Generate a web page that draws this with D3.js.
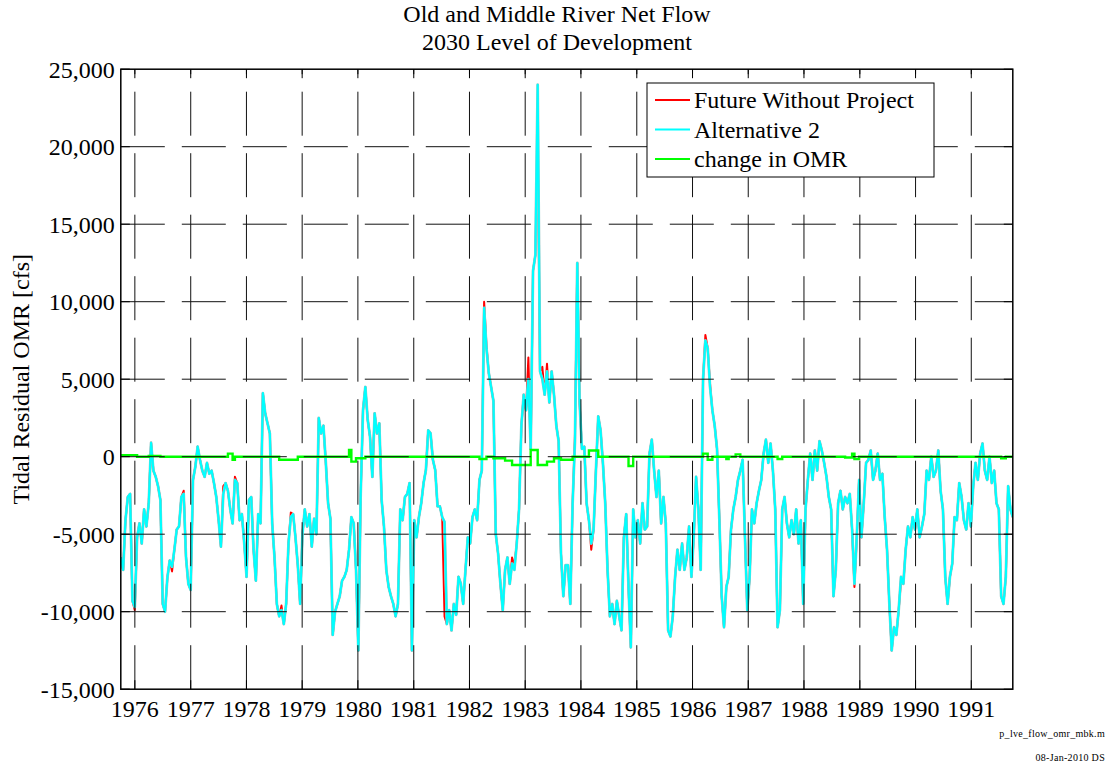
<!DOCTYPE html>
<html>
<head>
<meta charset="utf-8">
<script src="https://d3js.org/d3.v7.min.js"></script>
<style>
  html, body { margin: 0; padding: 0; background: #fff; }
  svg { display: block; font-family: "Liberation Serif", "Times New Roman", serif; }
</style>
</head>
<body>
<svg id="chart" width="1111" height="771"></svg>
<script>
const titleLines = ["Old and Middle River Net Flow", "2030 Level of Development"];
const yLabel = "Tidal Residual OMR [cfs]";
const footNotes = ["p_lve_flow_omr_mbk.m", "08-Jan-2010 DS"];
const seriesNames = ["Future Without Project", "Alternative 2", "change in OMR"];
const seriesColors = ["#ff0000", "#00ffff", "#00ff00"];
const yTicks = [-15000, -10000, -5000, 0, 5000, 10000, 15000, 20000, 25000];
const yearLabels = ["1976", "1977", "1978", "1979", "1980", "1981", "1982", "1983",
  "1984", "1985", "1986", "1987", "1988", "1989", "1990", "1991"];

// half-monthly values, water years 1976..1991 (Oct 1 .. Sep 30), 24 per row
const alt2ByWY = [
  [-6500,-7300,-4100,-2600,-2400,-9300,-9700,-5200,-4300,-5600,-3400,-4500,-3000,900,-900,-1300,-1900,-2800,-9500,-10000,-7800,-6700,-7100,-6000],
  [-4700,-4500,-2600,-2400,-6500,-8200,-8600,-1500,-650,650,-200,-900,-1300,-400,-1100,-900,-1700,-2600,-4100,-5800,-2400,-1700,-2200,-3400],
  [-4300,-1500,-1700,-4100,-3700,-5600,-7750,-2800,-2600,-6000,-8000,-3700,-4300,4100,2800,2150,1500,-4300,-6500,-9500,-10300,-9900,-10800,-9500],
  [-5600,-3900,-3700,-5200,-7000,-9500,-5000,-3400,-4500,-3700,-5800,-4000,-5000,2500,1500,2000,-300,-3000,-4000,-11500,-10000,-9500,-9000,-8000],
  [-7750,-7300,-6000,-3900,-4300,-7300,-12500,-2400,3000,4500,2400,1300,-1300,2800,1500,2150,-2800,-4500,-7300,-8400,-9000,-9500,-10300,-9500],
  [-3400,-4100,-2600,-2400,-1700,-12500,-4100,-5200,-3900,-3000,-1700,-860,1700,1500,-200,-860,-3200,-3200,-3900,-4200,-10800,-9900,-11200,-9500],
  [-10200,-7750,-8200,-9500,-7300,-5200,-5600,-3900,-3400,-4100,-1500,-900,9600,7000,5400,4500,3600,-5000,-6250,-8200,-9900,-7300,-6500,-8200],
  [-6900,-7300,-5600,-3400,2000,4000,3000,5000,500,12000,13000,24000,5500,5000,4000,5500,3500,5500,4000,2000,1000,-6250,-9000,-7000],
  [-7000,-9500,-3000,1000,12500,3500,500,650,-3000,-4100,-5600,-4700,-900,2600,1700,-400,-3000,-7300,-10300,-9500,-10800,-9300,-10300,-11200],
  [-5200,-3700,-8400,-12300,-3400,-5200,-4100,-5600,-3000,-4700,-4500,200,1100,-900,-2600,-900,-4300,-2600,-4300,-11200,-11600,-10300,-7750,-6000],
  [-7300,-5600,-7300,-6500,-4500,-7750,-5200,-1300,-3400,-7300,5000,7500,7000,4500,3000,2000,500,-4000,-9000,-11000,-8400,-7750,-4700,-3400],
  [-2600,-1500,-900,-200,-5200,-9900,-7750,-3400,-4300,-3000,-2200,-1500,200,1100,-400,850,-900,-3400,-11000,-9900,-3400,-2600,-4300,-5200],
  [-4100,-5000,-3400,-5600,-4100,-9500,-3400,-1500,200,-1500,400,-900,1000,400,-400,-1300,-2600,-3400,-9000,-7300,-3000,-2200,-3400,-2600],
  [-3000,-2400,-4700,-8200,-5200,-1500,-5200,-3000,-400,-200,400,-1500,-900,200,-1500,-1100,-3900,-6000,-9500,-12500,-11000,-11500,-9900,-7750],
  [-8200,-6000,-4500,-5200,-3900,-4700,-3400,-5200,-4500,-3700,-900,-1500,0,-1300,-900,400,-2200,-3400,-7750,-9500,-7750,-6900,-3900,-4100],
  [-1700,-2600,-4100,-4700,-3000,-4500,-1900,-400,-1500,200,850,-900,-1500,0,-1700,-900,-3000,-3400,-9000,-9500,-7750,-1900,-3400,-3900]
];

const fwpByWY = [
  [-6500,-7300,-4100,-2600,-2400,-9300,-9900,-5200,-4300,-5600,-3400,-4500,-3000,900,-900,-1300,-1900,-2800,-9500,-10000,-7800,-6700,-7400,-6000],
  [-4700,-4500,-2600,-2200,-6500,-8200,-8600,-1500,-650,650,-200,-900,-1300,-400,-1100,-900,-1700,-2600,-4100,-5800,-1900,-1700,-2200,-3400],
  [-4300,-1300,-1700,-4100,-3700,-5600,-7750,-2800,-2600,-6000,-8000,-3700,-4300,4100,2800,2150,1500,-4300,-6500,-9500,-10300,-9600,-10800,-9500],
  [-5600,-3600,-3700,-5200,-7000,-9500,-5000,-3400,-4500,-3700,-5800,-4000,-5000,2500,1500,2000,-300,-3000,-4000,-11500,-10000,-9500,-9000,-8000],
  [-7750,-7300,-6000,-3900,-4300,-7300,-12500,-2400,3000,4500,2400,1300,-1300,2800,1500,2150,-2800,-4500,-7300,-8400,-9000,-9500,-10300,-9500],
  [-3400,-4100,-2600,-2400,-1700,-12500,-4100,-5200,-3900,-3000,-1700,-860,1700,1500,-200,-860,-3200,-3200,-3900,-10300,-10800,-9900,-11200,-9500],
  [-10200,-7750,-8200,-9500,-7300,-5200,-5600,-3900,-3400,-4100,-1500,-900,10000,7200,5400,4500,3600,-5000,-6250,-8200,-9900,-7300,-6500,-8200],
  [-6500,-7000,-5600,-3400,2000,4000,3000,6400,500,12000,13000,20400,5500,5800,4000,6000,3500,5500,4000,2000,1000,-6250,-9000,-7000],
  [-7000,-9500,-3000,1300,12500,3500,500,650,-3000,-4100,-6000,-4700,-900,2600,1700,-400,-3000,-7300,-10300,-9500,-10800,-9300,-10300,-11200],
  [-5200,-3700,-8400,-12300,-3400,-5200,-4100,-5600,-3000,-4700,-4500,200,1100,-900,-2600,-900,-4300,-2600,-4300,-11200,-11600,-10300,-7750,-6000],
  [-7300,-5600,-7300,-6500,-4500,-7750,-5200,-1300,-3400,-7300,5000,7850,7000,4700,3000,2000,500,-4000,-9000,-11000,-8400,-7750,-4700,-3400],
  [-2600,-1500,-900,-200,-5200,-9900,-7750,-3400,-4300,-3000,-2200,-1500,200,1100,-400,850,-900,-3400,-11000,-9900,-3400,-2600,-4300,-5200],
  [-4100,-5000,-3400,-5600,-4100,-9500,-3400,-1500,200,-1500,400,-900,1000,400,-400,-1300,-2600,-3400,-9000,-7300,-3000,-2200,-3400,-2600],
  [-3000,-2400,-4700,-8400,-5200,-1500,-5200,-3000,-400,-200,400,-1500,-900,200,-1500,-1100,-3900,-6000,-9500,-12500,-11000,-11500,-9900,-8000],
  [-8200,-6000,-4500,-5200,-3900,-4700,-3400,-5200,-4500,-3700,-900,-1500,0,-1300,-900,400,-2200,-3400,-7750,-9500,-7750,-6900,-3900,-4100],
  [-1700,-2600,-4100,-4700,-3000,-4500,-1900,-400,-1500,200,850,-900,-1500,0,-1700,-900,-3000,-3400,-9000,-9500,-7750,-1900,-3400,-3900]
];

const changeByWY = [
  [100,100,100,100,100,100,100,0,0,0,0,0,50,50,50,50,50,0,0,0,0,0,0,0],
  [0,0,0,0,0,0,0,0,0,0,0,0,0,0,0,0,0,0,0,0,0,0,200,200],
  [-200,0,0,0,0,0,0,0,0,0,0,0,0,0,0,0,0,0,0,0,-200,-200,-200,-200],
  [-200,-200,-200,-200,0,0,0,0,0,0,0,0,0,0,0,0,0,0,0,0,0,0,0,0],
  [0,0,430,-320,-320,-100,-100,-100,-100,0,0,0,0,0,0,0,0,0,0,0,0,0,0,0],
  [0,0,0,0,0,0,0,0,0,0,0,0,0,0,0,0,0,0,0,0,0,0,0,0],
  [0,0,0,0,0,0,0,0,0,0,-150,-150,-150,0,0,0,-100,-100,-100,-100,-100,-250,-250,-250],
  [-540,-540,-540,-540,-540,-540,-540,-540,430,430,430,-540,-540,-540,-540,-320,-320,-320,-100,-100,-100,-200,-200,-200],
  [-200,-200,0,0,0,0,0,0,0,400,400,400,400,0,0,0,0,0,0,0,0,0,0,0],
  [0,0,-600,-600,0,0,0,0,0,0,0,0,0,0,0,0,0,0,0,0,0,0,0,0],
  [0,0,0,0,0,0,0,0,0,0,200,200,-200,-200,0,0,0,0,0,0,-150,0,0,0],
  [150,150,0,0,0,0,0,0,0,0,0,0,0,0,0,0,0,0,-150,-150,0,0,0,0],
  [0,0,0,0,0,0,0,0,0,0,0,0,0,0,0,0,0,0,0,0,0,0,0,-50],
  [-50,-50,200,-150,-150,0,0,0,0,0,0,0,0,0,0,0,0,0,0,0,0,0,0,0],
  [0,0,0,0,0,0,0,0,0,0,0,0,0,0,0,0,0,0,0,0,0,0,0,0],
  [0,0,0,0,0,0,0,0,0,0,0,0,0,0,0,0,0,0,-100,-100,0,0,0,0]
];

const alt2 = alt2ByWY.flat();
const fwp = fwpByWY.flat();
const change = changeByWY.flat();

const startDate = new Date(1975, 9, 1);
const endDate = new Date(1991, 8, 30);
const n = alt2.length;
const dates = d3.range(n).map(i => new Date(+startDate + i * (endDate - startDate) / (n - 1)));

const plot = { left: 120.8, right: 1012.8, top: 69.2, bottom: 689.2 };

const svg = d3.select("#chart");

const x = d3.scaleTime()
  .domain([startDate, endDate])
  .range([plot.left, plot.right]);

const y = d3.scaleLinear()
  .domain([-15000, 25000])
  .range([plot.bottom, plot.top]);

const yearDates = yearLabels.map(s => new Date(+s, 0, 1));
const fmt = d3.formatLocale({ decimal: ".", thousands: ",", grouping: [3], currency: ["$", ""], minus: "-" }).format(",");

// title
svg.append("g")
  .selectAll("text")
  .data(titleLines)
  .join("text")
  .attr("x", 557)
  .attr("y", (d, i) => 22 + i * 28)
  .attr("text-anchor", "middle")
  .attr("font-size", "24px")
  .text(d => d);

// data lines
svg.append("clipPath").attr("id", "clip")
  .append("rect")
  .attr("x", plot.left).attr("y", plot.top)
  .attr("width", plot.right - plot.left).attr("height", plot.bottom - plot.top);

const dataG = svg.append("g").attr("clip-path", "url(#clip)");

const line = d3.line()
  .x((d, i) => x(dates[i]))
  .y(d => y(d));

dataG.append("path")
  .datum(fwp)
  .attr("d", line)
  .attr("fill", "none")
  .attr("stroke", seriesColors[0])
  .attr("stroke-width", 2)
  .attr("stroke-linejoin", "round");

// soft grey edge like the printed original
dataG.append("path")
  .datum(alt2)
  .attr("d", line)
  .attr("fill", "none")
  .attr("stroke", "#9cc6c6")
  .attr("stroke-width", 2.8)
  .attr("stroke-linejoin", "round");

dataG.append("path")
  .datum(alt2)
  .attr("d", line)
  .attr("fill", "none")
  .attr("stroke", seriesColors[1])
  .attr("stroke-width", 2.1)
  .attr("stroke-linejoin", "round");

dataG.append("path")
  .datum(change)
  .attr("d", line.curve(d3.curveStepAfter))
  .attr("fill", "none")
  .attr("stroke", seriesColors[2])
  .attr("stroke-width", 2.4);

// grid (drawn on top of the data)
const grid = svg.append("g")
  .attr("stroke", "#111")
  .attr("stroke-width", 1);

grid.selectAll("line.vgrid")
  .data(yearDates)
  .join("line")
  .attr("class", "vgrid")
  .attr("x1", d => x(d)).attr("x2", d => x(d))
  .attr("y1", plot.bottom).attr("y2", plot.top)
  .attr("stroke-dasharray", "44,17.5");

grid.selectAll("line.hgrid")
  .data(yTicks.slice(1, -1))
  .join("line")
  .attr("class", "hgrid")
  .attr("x1", plot.left).attr("x2", plot.right)
  .attr("y1", d => y(d)).attr("y2", d => y(d))
  .attr("stroke-dasharray", "44,17");

// box and inward ticks
const axes = svg.append("g").attr("stroke", "#000");
axes.append("rect")
  .attr("x", plot.left).attr("y", plot.top)
  .attr("width", plot.right - plot.left).attr("height", plot.bottom - plot.top)
  .attr("fill", "none")
  .attr("stroke-width", 1.5);

const tl = 9;
yearDates.forEach(d => {
  axes.append("line").attr("x1", x(d)).attr("x2", x(d)).attr("y1", plot.bottom).attr("y2", plot.bottom - tl);
  axes.append("line").attr("x1", x(d)).attr("x2", x(d)).attr("y1", plot.top).attr("y2", plot.top + tl);
});
yTicks.forEach(v => {
  axes.append("line").attr("x1", plot.left).attr("x2", plot.left + tl).attr("y1", y(v)).attr("y2", y(v));
  axes.append("line").attr("x1", plot.right).attr("x2", plot.right - tl).attr("y1", y(v)).attr("y2", y(v));
});

// tick labels
svg.append("g")
  .selectAll("text")
  .data(yTicks)
  .join("text")
  .attr("x", plot.left - 6)
  .attr("y", d => y(d))
  .attr("dy", "0.35em")
  .attr("text-anchor", "end")
  .attr("font-size", "24px")
  .text(d => fmt(d));

svg.append("g")
  .selectAll("text")
  .data(yearDates)
  .join("text")
  .attr("x", d => x(d))
  .attr("y", 717)
  .attr("text-anchor", "middle")
  .attr("font-size", "24px")
  .text((d, i) => yearLabels[i]);

svg.append("text")
  .attr("transform", `translate(29,${(plot.top + plot.bottom) / 2}) rotate(-90)`)
  .attr("text-anchor", "middle")
  .attr("font-size", "24px")
  .text(yLabel);

// legend
const lg = svg.append("g").attr("transform", "translate(647,83)");
lg.append("rect")
  .attr("width", 287).attr("height", 94)
  .attr("fill", "#fff").attr("stroke", "#000").attr("stroke-width", 1);
seriesNames.forEach((name, i) => {
  const yy = 17 + i * 29.5;
  lg.append("line")
    .attr("x1", 8).attr("x2", 43).attr("y1", yy).attr("y2", yy)
    .attr("stroke", seriesColors[i]).attr("stroke-width", 2);
  lg.append("text")
    .attr("x", 47).attr("y", yy).attr("dy", "0.35em")
    .attr("font-size", "24px")
    .text(name);
});

// footnotes
svg.append("g")
  .selectAll("text")
  .data(footNotes)
  .join("text")
  .attr("x", 1105)
  .attr("y", (d, i) => 737 + i * 24)
  .attr("text-anchor", "end")
  .attr("font-size", "10px")
  .attr("letter-spacing", "0.3px")
  .text(d => d);
</script>
</body>
</html>
